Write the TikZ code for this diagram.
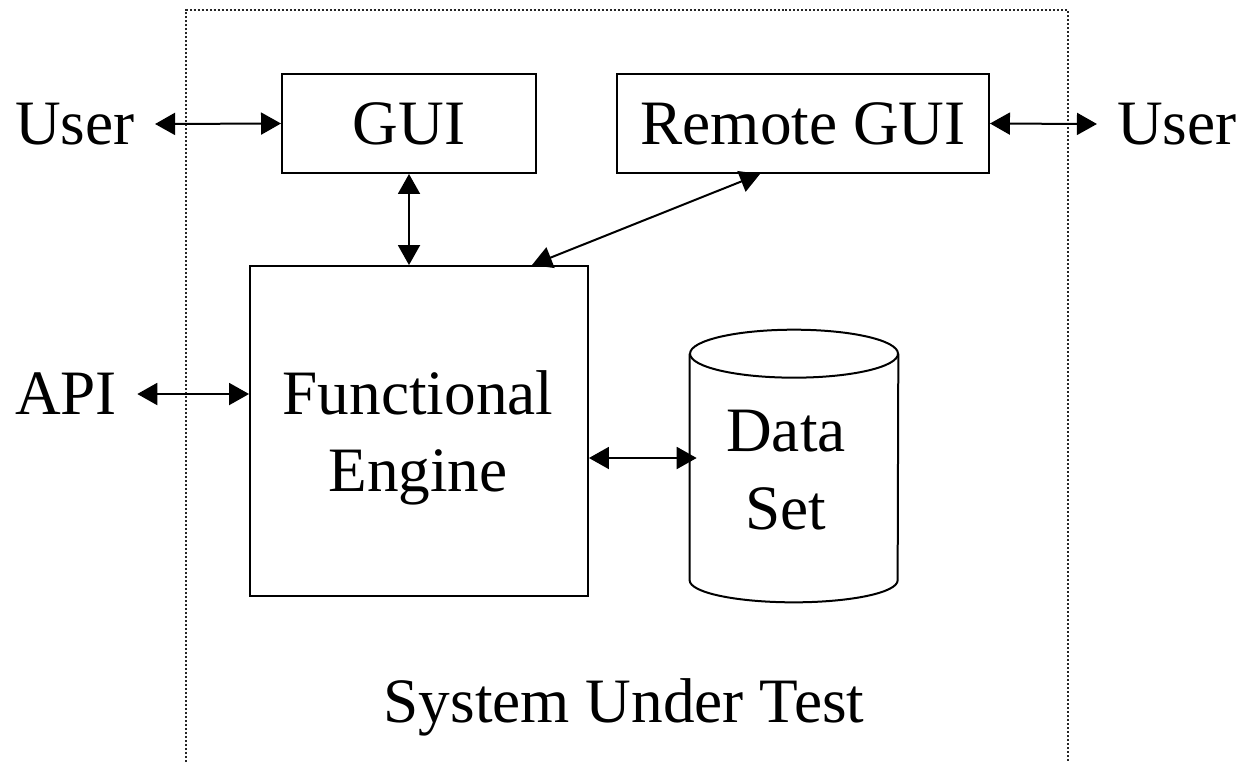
\documentclass[tikz,border=0pt]{standalone}
\usepackage{fontspec}
\setmainfont{Liberation Serif}
\usetikzlibrary{arrows.meta,calc}

\tikzset{
  lw/.style={line width=0.04cm},
  box/.style={draw, lw, rectangle, inner sep=0pt, align=center},
  ext/.style={inner xsep=0.4cm, inner ysep=0pt},
  biarrow/.style={lw, {Triangle[length=0.4cm,width=0.44cm]}-{Triangle[length=0.4cm,width=0.44cm]}},
  sutborder/.style={line width=0.03cm, draw=black!85, dash pattern=on 0.04cm off 0.04cm},
}

\begin{document}
\begin{tikzpicture}[x=0.02cm, y=-0.02cm,
  every node/.style={font=\fontsize{36}{44}\selectfont}]
  \useasboundingbox (0,0) rectangle (1244,762);

  % boundary of the system under test (open at the bottom)
  \draw[sutborder] (186,762) -- (186,10) -- (1068,10) -- (1068,762);

  % components
  \node[box, minimum width=5.08cm, minimum height=1.98cm] (gui) at (409,123.5) {GUI};
  \node[box, minimum width=7.44cm, minimum height=1.98cm] (rgui) at (803,123.5) {Remote GUI};
  \node[box, minimum width=6.76cm, minimum height=6.6cm] (fe) at (419,431) {};
  \node[align=center, inner sep=0pt] (fetext) at (418,438) {Functional\\Engine};

  % data store drawn as a cylinder around an invisible frame node
  \node[inner sep=0pt, minimum width=4.16cm, minimum height=5.44cm] (ds) at (794,466) {};
  \draw[lw] ([yshift=-0.48cm]ds.north) ellipse [x radius=2.08cm, y radius=0.48cm];
  \draw[lw] ([yshift=-0.48cm]ds.north west) -- ([yshift=0.44cm]ds.south west)
    arc[start angle=180, end angle=360, x radius=2.08cm, y radius=0.44cm]
    -- ([yshift=-0.48cm]ds.north east);
  \node[align=center, inner sep=0pt] (dstext) at (786,470) {Data\\Set};

  % external actors
  \node[ext] (userL) at (75,124) {User};
  \node[ext] (userR) at (1177,124) {User};
  \node[ext] (api) at (66,394) {API};

  \node[anchor=base] (sut) at (624,722) {System Under Test};

  % connectors
  \draw[biarrow] (userL.east) -- (gui.west);
  \draw[biarrow] (rgui.east) -- (userR.west);
  \draw[biarrow] (gui.south) -- (gui.south |- fe.north);
  \draw[biarrow] ([xshift=-0.86cm]rgui.south) -- ([xshift=2.26cm]fe.north);
  \draw[biarrow] (api.east) -- (api.east -| fe.west);
  \draw[biarrow, shorten >=-0.14cm] ([yshift=-0.54cm]fe.east) -- ([yshift=-0.54cm]fe.east -| ds.west);
\end{tikzpicture}
\end{document}
